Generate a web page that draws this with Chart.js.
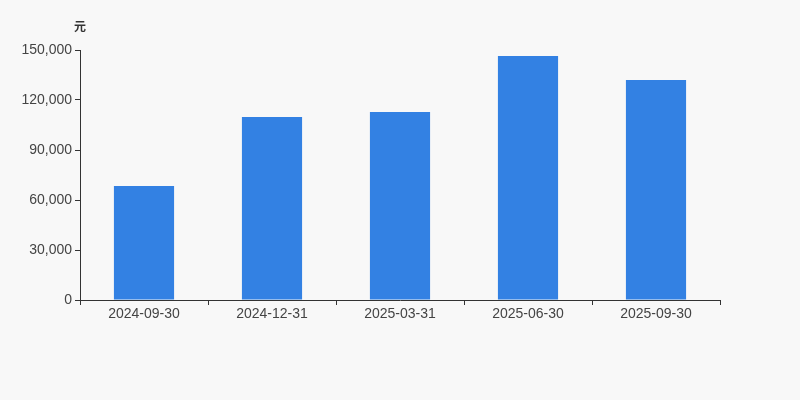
<!DOCTYPE html>
<html lang="zh">
<head>
  <meta charset="UTF-8" />
  <title>元</title>
  <script src="https://cdn.jsdelivr.net/npm/chart.js"></script>
  <style>
    html, body { margin: 0; padding: 0; background: #f8f8f8; }
    #wrap { width: 800px; height: 400px; }
  </style>
</head>
<body>
  <div id="wrap"><canvas id="chart" width="800" height="400"></canvas></div>
  <script>
// 数据
const categories = ['2024-09-30', '2024-12-31', '2025-03-31', '2025-06-30', '2025-09-30'];
const values = [68400, 109800, 112800, 146400, 132000];
const unitLabel = '元';

const fontFamily = '"Liberation Sans", Arial, "Noto Sans CJK SC", sans-serif';

// 单位文字画在 y 轴上方
const unitPlugin = {
    id: 'unitLabel',
    afterDraw(chart) {
        const ctx = chart.ctx;
        const area = chart.chartArea;
        ctx.save();
        ctx.font = 'bold 12px ' + fontFamily;
        ctx.fillStyle = '#333';
        ctx.textAlign = 'center';
        ctx.textBaseline = 'middle';
        ctx.fillText(unitLabel, area.left, area.top - 22);
        ctx.restore();
    }
};

new Chart(document.getElementById('chart'), {
    type: 'bar',
    data: {
        labels: categories,
        datasets: [{
            data: values,
            backgroundColor: '#3381e3',
            borderWidth: 0,
            barPercentage: 0.47,
            categoryPercentage: 1
        }]
    },
    options: {
        responsive: false,
        animation: false,
        layout: { padding: { top: 50, right: 80, bottom: 0, left: 0 } },
        plugins: { legend: { display: false }, tooltip: { enabled: false } },
        scales: {
            x: {
                grid: { drawOnChartArea: false, drawTicks: true, tickLength: 5, color: '#333', offset: true },
                border: { color: '#333', width: 1 },
                ticks: { color: '#444', font: { family: fontFamily, size: 14 }, padding: 1, maxRotation: 0 },
                afterFit(scale) { scale.height = 100; }
            },
            y: {
                min: 0,
                max: 150000,
                grid: { drawOnChartArea: false, drawTicks: true, tickLength: 5, color: '#333' },
                border: { color: '#333', width: 1 },
                ticks: {
                    stepSize: 30000,
                    color: '#444',
                    font: { family: fontFamily, size: 14 },
                    padding: 3,
                    callback: v => v.toLocaleString('en-US')
                },
                afterFit(scale) { scale.width = 80; }
            }
        }
    },
    plugins: [unitPlugin]
});
  </script>
</body>
</html>
